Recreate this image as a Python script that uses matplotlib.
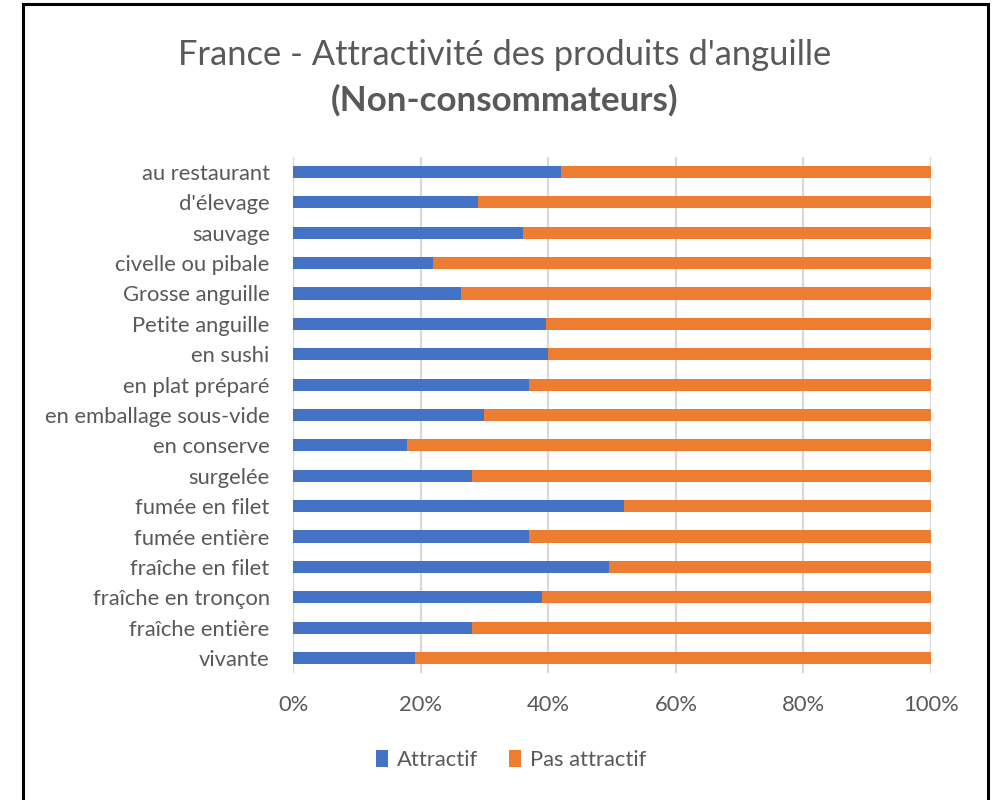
import matplotlib
matplotlib.use("Agg")
import matplotlib.pyplot as plt
from matplotlib.patches import Rectangle, Patch
from matplotlib.ticker import FuncFormatter, MultipleLocator

plt.rcParams['font.family'] = ['Lato', 'DejaVu Sans']

categories = [
    "au restaurant", "d'élevage", "sauvage", "civelle ou pibale",
    "Grosse anguille", "Petite anguille", "en sushi", "en plat préparé",
    "en emballage sous-vide", "en conserve", "surgelée", "fumée en filet",
    "fumée entière", "fraîche en filet", "fraîche en tronçon",
    "fraîche entière", "vivante",
]
attractif = [42.0, 28.9, 36.0, 21.9, 26.3, 39.6, 40.0, 37.0,
             29.9, 17.9, 28.0, 51.9, 37.0, 49.5, 39.0, 28.0, 19.1]
pas_attractif = [100 - v for v in attractif]

series_names = ["Attractif", "Pas attractif"]
colors = ["#4472C4", "#ED7D31"]
text_color = "#595959"

W, H = 995, 800
fig = plt.figure(figsize=(W / 100, H / 100), dpi=100)
fig.patch.set_facecolor("white")

# plot area in pixel coordinates
left, right, top, bottom = 293.3, 931.0, 156.8, 673.2
ax = fig.add_axes([left / W, 1 - bottom / H, (right - left) / W, (bottom - top) / H])

y = list(range(len(categories)))
ax.barh(y, attractif, height=0.4, color=colors[0], label=series_names[0], zorder=3)
ax.barh(y, pas_attractif, left=attractif, height=0.4, color=colors[1],
        label=series_names[1], zorder=3)

label_size = 15.8
ax.set_xlim(0, 100)
ax.set_ylim(len(categories) - 0.5, -0.5)
ax.set_yticks(y)
ax.set_yticklabels(categories, fontsize=label_size, color=text_color)
ax.xaxis.set_major_locator(MultipleLocator(20))
ax.xaxis.set_major_formatter(FuncFormatter(lambda v, p: f"{int(v)}%"))
ax.tick_params(axis='x', labelsize=label_size, labelcolor=text_color, length=0, pad=16)
ax.tick_params(axis='y', length=0, pad=17)
ax.grid(axis='x', color="#D9D9D9", linewidth=1.6, zorder=0)
for s in ax.spines.values():
    s.set_visible(False)

# titles
fig.text(505 / W, 1 - 55 / H, "France - Attractivité des produits d'anguille",
         ha='center', va='center', fontsize=24.8, color=text_color)
fig.text(505 / W, 1 - 100 / H, "(Non-consommateurs)",
         ha='center', va='center', fontsize=25.2, color=text_color, fontweight='bold')

# legend
handles = [Patch(facecolor=c, label=n) for c, n in zip(colors, series_names)]
fig.legend(handles=handles, loc='center', bbox_to_anchor=(511 / W, 1 - 760 / H),
           ncol=2, frameon=False, fontsize=label_size, labelcolor=text_color,
           handlelength=0.55, handleheight=0.8, handletextpad=0.4, columnspacing=1.4)

# outer frame
fig.patches.append(Rectangle((23 / W, -0.02), (988 - 23) / W, 1.02 - 4 / H,
                             transform=fig.transFigure, fill=False,
                             edgecolor="black", linewidth=2.2))

fig.savefig("out.png", dpi=100)
